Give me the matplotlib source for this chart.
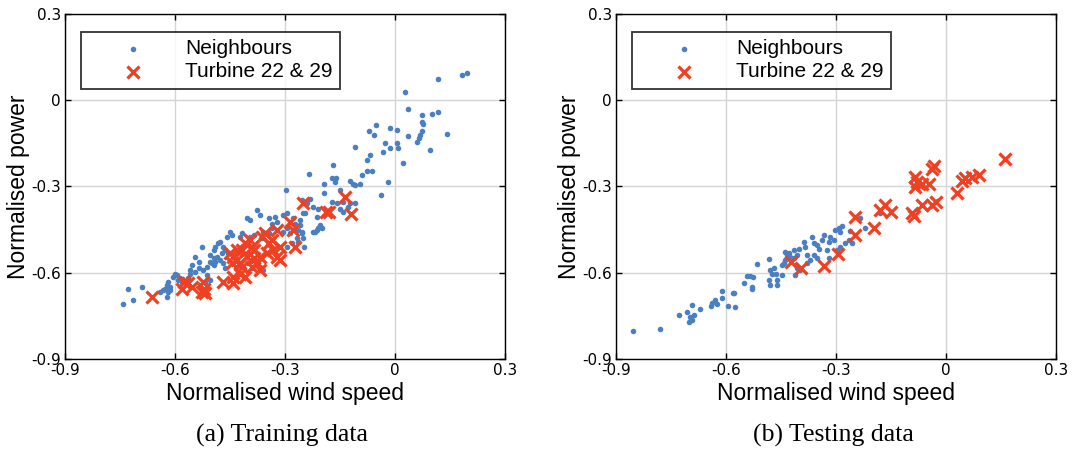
import matplotlib
matplotlib.use("Agg")
import matplotlib.pyplot as plt

# ---------------- data ----------------
train_nb_x = [0.195, 0.182, 0.116, 0.027, 0.036, 0.073, 0.100, 0.118, 0.073, 0.077,
              -0.014, 0.005, 0.034, 0.073, 0.068, 0.064, 0.059, 0.141, 0.006, 0.009,
              -0.014, 0.095, -0.070, -0.052, -0.057, -0.027, -0.032, -0.109, -0.068, -0.077,
              0.023, -0.168, -0.236, -0.091, -0.077, -0.064, -0.173, -0.161, -0.165, -0.123,
              -0.114, -0.095, -0.109, -0.018, -0.195, -0.150, -0.297, -0.195, -0.039, -0.232,
              -0.255, -0.241, -0.250, -0.223, -0.209, -0.214, -0.173, -0.159, -0.141, -0.123,
              -0.109, -0.150, -0.141, -0.127, -0.205, -0.200, -0.214, -0.218, -0.209, -0.259,
              -0.255, -0.250, -0.248, -0.368, -0.377, -0.405, -0.395, -0.345, -0.327, -0.305,
              -0.295, -0.336, -0.323, -0.277, -0.273, -0.259, -0.245, -0.264, -0.255, -0.223,
              -0.450, -0.445, -0.459, -0.482, -0.477, -0.491, -0.495, -0.505, -0.423, -0.418,
              -0.395, -0.386, -0.364, -0.359, -0.345, -0.336, -0.305, -0.295, -0.286, -0.268,
              -0.282, -0.264, -0.295, -0.468, -0.464, -0.473, -0.486, -0.477, -0.468, -0.464,
              -0.505, -0.495, -0.455, -0.432, -0.423, -0.414, -0.400, -0.391, -0.386, -0.368,
              -0.359, -0.527, -0.545, -0.536, -0.495, -0.491, -0.500, -0.555, -0.559, -0.545,
              -0.536, -0.523, -0.514, -0.600, -0.605, -0.595, -0.586, -0.582, -0.591, -0.559,
              -0.564, -0.618, -0.623, -0.614, -0.627, -0.614, -0.618, -0.632, -0.641, -0.623,
              -0.691, -0.727, -0.714, -0.741, -0.514, -0.505, -0.518]
train_nb_y = [0.093, 0.087, 0.075, 0.029, -0.032, -0.052, -0.049, -0.041, -0.075, -0.083,
              -0.098, -0.104, -0.125, -0.107, -0.122, -0.133, -0.145, -0.118, -0.148, -0.165,
              -0.168, -0.174, -0.107, -0.087, -0.122, -0.148, -0.180, -0.162, -0.191, -0.209,
              -0.220, -0.226, -0.255, -0.261, -0.247, -0.246, -0.272, -0.272, -0.284, -0.280,
              -0.290, -0.290, -0.295, -0.286, -0.293, -0.311, -0.311, -0.324, -0.331, -0.342,
              -0.348, -0.359, -0.394, -0.371, -0.377, -0.406, -0.353, -0.359, -0.353, -0.359,
              -0.359, -0.377, -0.388, -0.371, -0.435, -0.443, -0.452, -0.458, -0.446, -0.435,
              -0.458, -0.481, -0.510, -0.400, -0.382, -0.411, -0.417, -0.411, -0.406, -0.400,
              -0.394, -0.429, -0.423, -0.411, -0.429, -0.417, -0.394, -0.452, -0.463, -0.458,
              -0.458, -0.469, -0.475, -0.498, -0.492, -0.510, -0.521, -0.539, -0.475, -0.463,
              -0.475, -0.469, -0.481, -0.458, -0.463, -0.446, -0.458, -0.446, -0.463, -0.481,
              -0.498, -0.492, -0.510, -0.510, -0.521, -0.533, -0.545, -0.556, -0.568, -0.585,
              -0.562, -0.574, -0.533, -0.556, -0.574, -0.579, -0.568, -0.585, -0.556, -0.579,
              -0.591, -0.510, -0.545, -0.562, -0.550, -0.562, -0.568, -0.574, -0.591, -0.597,
              -0.585, -0.591, -0.579, -0.603, -0.614, -0.608, -0.620, -0.632, -0.626, -0.603,
              -0.620, -0.632, -0.643, -0.649, -0.655, -0.660, -0.666, -0.660, -0.666, -0.686,
              -0.651, -0.658, -0.695, -0.709, -0.608, -0.626, -0.632]

train_tb_x = [-0.664, -0.575, -0.582, -0.555, -0.564, -0.523, -0.521, -0.518, -0.527, -0.468,
              -0.441, -0.441, -0.423, -0.418, -0.409, -0.450, -0.441, -0.432, -0.423, -0.445,
              -0.418, -0.409, -0.395, -0.391, -0.405, -0.386, -0.377, -0.368, -0.391, -0.364,
              -0.355, -0.345, -0.332, -0.323, -0.314, -0.336, -0.323, -0.314, -0.286, -0.277,
              -0.273, -0.252, -0.188, -0.179, -0.136, -0.121, -0.368, -0.386, -0.432, -0.350]
train_tb_y = [-0.684, -0.632, -0.655, -0.649, -0.637, -0.632, -0.655, -0.672, -0.666, -0.632,
              -0.637, -0.614, -0.603, -0.579, -0.614, -0.533, -0.545, -0.556, -0.568, -0.568,
              -0.521, -0.498, -0.487, -0.510, -0.545, -0.550, -0.568, -0.591, -0.579, -0.475,
              -0.463, -0.498, -0.521, -0.545, -0.556, -0.487, -0.452, -0.510, -0.423, -0.452,
              -0.510, -0.357, -0.388, -0.388, -0.336, -0.396, -0.545, -0.521, -0.521, -0.533]

test_nb_x = [-0.854, -0.781, -0.729, -0.706, -0.693, -0.697, -0.693, -0.686, -0.702, -0.672,
             -0.641, -0.638, -0.625, -0.629, -0.611, -0.611, -0.595, -0.576, -0.582, -0.552,
             -0.535, -0.526, -0.529, -0.529, -0.515, -0.484, -0.479, -0.475, -0.470, -0.484,
             -0.461, -0.479, -0.461, -0.447, -0.463, -0.443, -0.447, -0.438, -0.438, -0.429,
             -0.425, -0.434, -0.415, -0.402, -0.406, -0.388, -0.384, -0.365, -0.361, -0.347,
             -0.352, -0.338, -0.334, -0.315, -0.320, -0.306, -0.302, -0.293, -0.284, -0.288,
             -0.261, -0.265, -0.275, -0.256, -0.288, -0.297, -0.325, -0.234, -0.220, -0.379,
             -0.370, -0.397, -0.406, -0.411, -0.379, -0.352, -0.361, -0.320, -0.415, -0.543,
             -0.579, -0.179]
test_nb_y = [-0.802, -0.797, -0.747, -0.736, -0.713, -0.753, -0.765, -0.747, -0.771, -0.728,
             -0.715, -0.707, -0.709, -0.695, -0.689, -0.663, -0.715, -0.718, -0.670, -0.635,
             -0.612, -0.616, -0.649, -0.658, -0.571, -0.554, -0.589, -0.603, -0.585, -0.626,
             -0.626, -0.643, -0.643, -0.608, -0.603, -0.568, -0.574, -0.556, -0.527, -0.533,
             -0.545, -0.539, -0.521, -0.516, -0.539, -0.492, -0.510, -0.475, -0.498, -0.516,
             -0.504, -0.487, -0.469, -0.475, -0.492, -0.487, -0.452, -0.443, -0.438, -0.458,
             -0.454, -0.487, -0.498, -0.498, -0.510, -0.521, -0.521, -0.411, -0.446, -0.539,
             -0.556, -0.591, -0.585, -0.608, -0.568, -0.550, -0.539, -0.550, -0.550, -0.612,
             -0.672, -0.393]

test_tb_x = [0.162, -0.034, -0.038, -0.084, -0.079, -0.084, -0.065, -0.047, 0.030, 0.044,
             0.053, 0.071, 0.089, -0.093, -0.088, -0.065, -0.038, -0.027, -0.181, -0.165,
             -0.150, -0.247, -0.195, -0.247, -0.295, -0.334, -0.423, -0.395]
test_tb_y = [-0.203, -0.229, -0.241, -0.267, -0.284, -0.301, -0.290, -0.290, -0.322, -0.280,
             -0.272, -0.267, -0.261, -0.394, -0.403, -0.365, -0.365, -0.353, -0.382, -0.365,
             -0.390, -0.408, -0.443, -0.469, -0.536, -0.577, -0.564, -0.582]

ticks = [-0.9, -0.6, -0.3, 0, 0.3]
tick_labels = ["-0.9", "-0.6", "-0.3", "0", "0.3"]
legend_labels = ["Neighbours", "Turbine 22 & 29"]
captions = ["(a) Training data", "(b) Testing data"]
xlabel = "Normalised wind speed"
ylabel = "Normalised power"

BLUE = "#4a80c2"
RED = "#ee4022"

fig = plt.figure(figsize=(10.75, 4.59), dpi=100)
positions = [[0.0605, 0.218, 0.4093, 0.7516], [0.573, 0.218, 0.4093, 0.7516]]
datasets = [(train_nb_x, train_nb_y, train_tb_x, train_tb_y),
            (test_nb_x, test_nb_y, test_tb_x, test_tb_y)]
cap_x = [0.262, 0.775]

for pos, (nx, ny, tx, ty), cap, cx in zip(positions, datasets, captions, cap_x):
    ax = fig.add_axes(pos)
    ax.scatter(nx, ny, s=16, color=BLUE, marker="o", linewidths=0,
               label=legend_labels[0], zorder=3)
    ax.scatter(tx, ty, s=75, color=RED, marker="x", linewidths=2.3,
               label=legend_labels[1], zorder=4)
    ax.set_xlim(-0.9, 0.3)
    ax.set_ylim(-0.9, 0.3)
    ax.set_xticks(ticks)
    ax.set_xticklabels(tick_labels)
    ax.set_yticks(ticks)
    ax.set_yticklabels(tick_labels)
    ax.grid(True, color="#d4d4d4", linewidth=1.0, zorder=0)
    ax.set_axisbelow(True)
    ax.tick_params(direction="in", top=True, right=True, length=4, width=1,
                   labelsize=11, pad=3)
    for t in ax.get_xticklabels() + ax.get_yticklabels():
        t.set_fontfamily("Liberation Sans Narrow")
    for sp in ax.spines.values():
        sp.set_linewidth(1.0)
        sp.set_color("black")
    ax.set_xlabel(xlabel, fontsize=16.5, family="Liberation Sans", labelpad=3)
    ax.set_ylabel(ylabel, fontsize=16.5, family="Liberation Sans", labelpad=1)
    leg = ax.legend(loc="upper left", bbox_to_anchor=(0.036, 0.948), borderaxespad=0,
                    prop={"family": "Liberation Sans", "size": 15},
                    frameon=True, fancybox=False, edgecolor="black",
                    handlelength=4.3, handletextpad=0.35, borderpad=0.35,
                    labelspacing=0.2, markerscale=1.0, scatterpoints=1)
    leg.get_frame().set_linewidth(1.3)
    fig.text(cx, 0.052, cap, ha="center", va="center", fontsize=18.5,
             family="Liberation Serif")

fig.savefig("out.png", dpi=100)
